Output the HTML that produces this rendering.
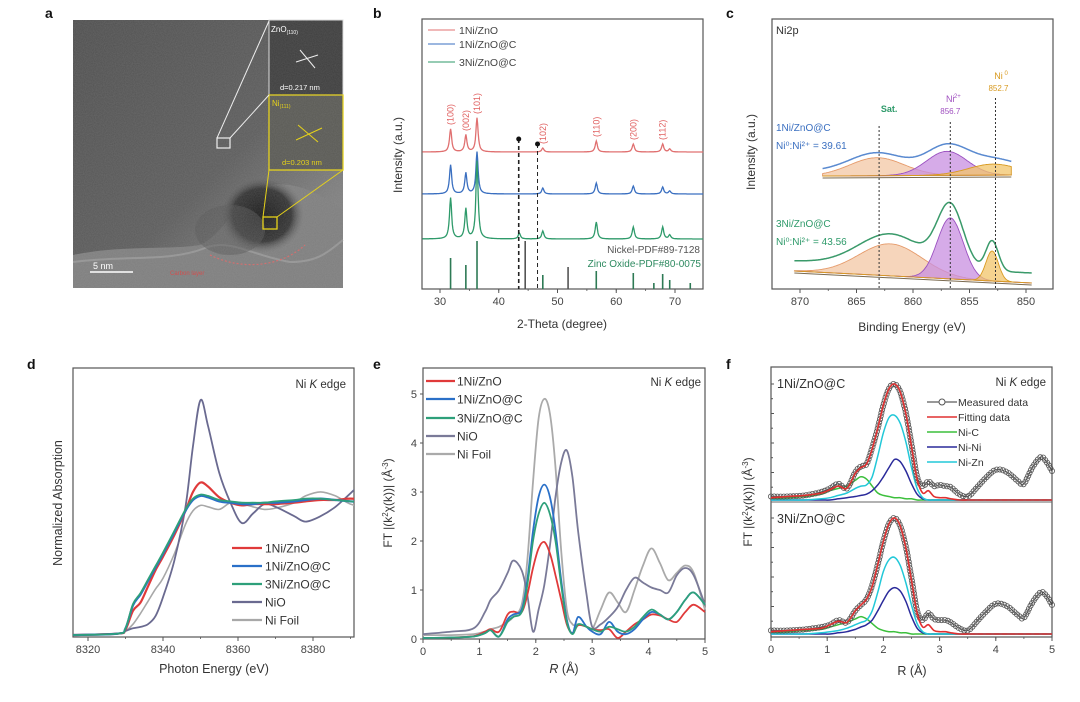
<!DOCTYPE html>
<html><head><meta charset="utf-8"><style>
html,body{margin:0;padding:0;background:#fff;}
svg{display:block;font-family:"Liberation Sans",Arial,sans-serif;}
</style></head><body>
<svg id="fig" width="1080" height="702" viewBox="0 0 1080 702" xmlns="http://www.w3.org/2000/svg">
<defs>
<radialGradient id="blob" cx="0.5" cy="0.5" r="0.5"><stop offset="0" stop-color="#1a1a1a"/><stop offset="0.7" stop-color="#333"/><stop offset="1" stop-color="#6a6a6a" stop-opacity="0"/></radialGradient>
<linearGradient id="temg" x1="0" y1="0" x2="1" y2="1"><stop offset="0" stop-color="#4e4e4e"/><stop offset="0.55" stop-color="#5c5c5c"/><stop offset="0.8" stop-color="#7d7d7d"/><stop offset="1" stop-color="#8a8a8a"/></linearGradient>
<filter id="noise"><feTurbulence type="fractalNoise" baseFrequency="0.9" numOctaves="2" seed="3"/><feColorMatrix type="matrix" values="0 0 0 0 0.5  0 0 0 0 0.5  0 0 0 0 0.5  0 0 0 0.35 0"/><feComposite in2="SourceGraphic" operator="in"/></filter>
<clipPath id="clipD"><rect x="73" y="368" width="281" height="269"/></clipPath>
</defs>
<g font-weight="bold" font-size="14" fill="#111">
<text x="45" y="18">a</text>
<text x="373" y="18">b</text>
<text x="726" y="18">c</text>
<text x="27" y="369">d</text>
<text x="373" y="369">e</text>
<text x="726" y="369">f</text>
</g>
<g>
<rect x="73" y="20" width="270" height="268" fill="url(#temg)"/>
<path d="M73,255 C120,245 170,250 200,245 C230,230 240,190 270,185 C300,180 330,200 343,210 L343,288 L73,288 Z" fill="#7e7e7e"/>
<path d="M73,262 C130,255 170,262 205,248 C230,238 250,255 290,262 C320,262 330,250 343,240" fill="none" stroke="#a5a5a5" stroke-width="2" opacity="0.6"/>
<ellipse cx="262" cy="215" rx="42" ry="38" fill="url(#blob)"/>
<ellipse cx="230" cy="230" rx="35" ry="25" fill="#555" opacity="0.5"/>
<rect x="73" y="20" width="270" height="268" fill="#888" filter="url(#noise)" opacity="0.6"/>
<path d="M210,255 C240,270 280,268 305,245" fill="none" stroke="#d07070" stroke-width="1.2" stroke-dasharray="2,2"/>
<rect x="269" y="20" width="74" height="75" fill="#3e3e3e" stroke="#ddd" stroke-width="1"/>
<rect x="269" y="95" width="74" height="75" fill="#5a5a55" stroke="#e6d21a" stroke-width="1.3"/>
<rect x="269" y="20" width="74" height="150" fill="#777" filter="url(#noise)" opacity="0.5"/>
<line x1="217" y1="138" x2="269" y2="21" stroke="#eee" stroke-width="1"/>
<line x1="230" y1="138" x2="269" y2="95" stroke="#eee" stroke-width="1"/>
<rect x="217" y="138" width="13" height="10" fill="none" stroke="#eee" stroke-width="1.2"/>
<line x1="263" y1="217" x2="269" y2="170" stroke="#e6d21a" stroke-width="1"/>
<line x1="277" y1="217" x2="343" y2="170" stroke="#e6d21a" stroke-width="1"/>
<rect x="263" y="217" width="14" height="12" fill="none" stroke="#e6d21a" stroke-width="1.3"/>
<line x1="300" y1="50" x2="315" y2="68" stroke="#eee" stroke-width="1"/><line x1="296" y1="62" x2="318" y2="55" stroke="#eee" stroke-width="1"/>
<line x1="298" y1="125" x2="318" y2="142" stroke="#e6d21a" stroke-width="1"/><line x1="296" y1="140" x2="322" y2="128" stroke="#e6d21a" stroke-width="1"/>
<text x="271" y="32" font-size="8" fill="#fff">ZnO<tspan font-size="5" dy="2">(110)</tspan></text>
<text x="280" y="90" font-size="7.5" fill="#fff">d=0.217 nm</text>
<text x="272" y="106" font-size="8" fill="#e6d21a">Ni<tspan font-size="5" dy="2">(111)</tspan></text>
<text x="282" y="165" font-size="7.5" fill="#e6d21a">d=0.203 nm</text>
<line x1="90" y1="272" x2="133" y2="272" stroke="#fff" stroke-width="1.5"/>
<text x="93" y="269" font-size="9" fill="#fff">5 nm</text>
<text x="170" y="275" font-size="6" fill="#d05050">Carbon layer</text>
</g>
<g id="plots"></g>
</svg>
<script>
// ---------- Panel b data (XRD) ----------
const xrdPeakPos = [31.8, 34.4, 36.3, 43.5, 47.5, 56.6, 62.9, 67.9, 69.1];
const xrdRed = [23, 17, 34, 0, 4, 11, 8, 8, 3];
const xrdBlue = [29, 21, 42, 0, 6, 11, 8, 7, 3];
const xrdGreen = [41, 30, 78, 6, 8, 17, 12, 12, 4];
const znoRefPos = [31.8, 34.4, 36.3, 47.5, 56.6, 62.9, 66.4, 67.9, 69.1, 72.6];
const znoRefInt = [31, 24, 48, 14, 18, 16, 6, 15, 9, 6];
const niRefPos = [44.5, 51.8];
const niRefInt = [48, 22];
const hklLabels = ['(100)', '(002)', '(101)', '(102)', '(110)', '(200)', '(112)'];
const hklPos = [31.8, 34.4, 36.3, 47.5, 56.6, 62.9, 67.9];
const xrdTicks = [30, 40, 50, 60, 70];
const xrdDashPos = [43.4, 46.6];
// ---------- Panel c data (XPS) ----------
const xpsTopCenters = [863.2, 857.0, 852.9];
const xpsTopHeights = [18, 24, 11];
const xpsTopWidths = [2.4, 1.8, 2.2];
const xpsBotCenters = [862.0, 856.7, 853.0];
const xpsBotHeights = [32, 61, 30];
const xpsBotWidths = [2.8, 1.15, 0.55];
const xpsTicks = [870, 865, 860, 855, 850];
const xpsMarkers = [863, 856.7, 852.7];
// ---------- Panel d data (XANES) ----------
const xanesE = [8316,8328,8330,8332,8334,8336,8338,8340,8343,8346,8348,8350,8352,8355,8358,8361,8364,8367,8370,8375,8378,8382,8386,8390,8395];
const xanesRed = [0,0.01,0.04,0.18,0.24,0.36,0.48,0.58,0.74,0.92,1.06,1.13,1.1,1.02,0.98,0.96,0.97,0.97,0.97,0.98,0.99,1.0,1.0,1.01,1.0];
const xanesBlue = [0,0.01,0.05,0.22,0.3,0.4,0.5,0.6,0.76,0.92,1.0,1.03,1.02,0.99,0.98,0.97,0.97,0.98,0.98,0.99,1.0,1.01,1.0,0.99,0.98];
const xanesGreen = [0,0.01,0.05,0.23,0.31,0.41,0.51,0.61,0.77,0.93,1.01,1.04,1.03,1.0,0.99,0.98,0.98,0.98,0.99,1.0,1.01,1.01,1.0,0.99,0.98];
const xanesNiO = [0,0.01,0.03,0.05,0.06,0.08,0.14,0.28,0.55,0.95,1.4,1.74,1.55,1.2,0.98,0.83,0.9,0.97,0.95,0.88,0.84,0.88,0.95,1.05,1.18];
const xanesFoil = [0,0.01,0.03,0.08,0.16,0.25,0.34,0.42,0.6,0.82,0.92,0.96,0.95,0.93,0.98,0.97,0.95,0.93,0.94,0.98,1.03,1.06,1.03,0.97,0.94];
const xanesTicks = [8320, 8340, 8360, 8380];
// ---------- Panel e data (FT-EXAFS) ----------
const ftR = [0,0.5,0.9,1.1,1.2,1.35,1.5,1.6,1.75,1.85,1.95,2.05,2.15,2.25,2.35,2.45,2.55,2.65,2.75,2.9,3.0,3.15,3.3,3.45,3.6,3.75,3.9,4.05,4.2,4.35,4.5,4.65,4.8,5.0];
const ftRed = [0.02,0.03,0.06,0.15,0.2,0.15,0.5,0.56,0.55,0.9,1.45,1.85,1.98,1.75,1.3,0.8,0.3,0.12,0.28,0.25,0.2,0.18,0.2,0.02,0.15,0.3,0.4,0.5,0.48,0.4,0.35,0.55,0.7,0.55];
const ftBlue = [0.02,0.03,0.05,0.12,0.18,0.05,0.4,0.5,0.6,1.2,2.2,2.9,3.15,2.9,2.2,1.2,0.4,0.12,0.45,0.25,0.15,0.1,0.35,0.15,0.1,0.2,0.4,0.55,0.5,0.4,0.55,0.8,0.95,0.7];
const ftGreen = [0.02,0.03,0.05,0.12,0.18,0.05,0.35,0.45,0.55,1.1,2.0,2.55,2.78,2.55,2.0,1.1,0.35,0.1,0.3,0.25,0.2,0.15,0.25,0.2,0.15,0.25,0.45,0.6,0.5,0.4,0.55,0.8,0.95,0.7];
const ftNiO = [0.1,0.15,0.22,0.55,0.8,1.0,1.35,1.6,1.4,0.9,0.15,0.6,1.1,1.9,2.9,3.6,3.85,3.3,2.2,0.9,0.25,0.3,0.45,0.65,1.0,1.25,1.15,1.05,1.0,0.95,1.3,1.45,1.3,0.7];
const ftFoil = [0.08,0.08,0.1,0.15,0.2,0.25,0.35,0.45,0.7,1.6,3.2,4.5,4.9,4.6,3.5,1.8,0.6,0.3,0.3,0.25,0.2,0.6,0.95,0.75,0.55,1.0,1.5,1.85,1.55,1.2,1.35,1.5,1.35,0.6];
const ftYTicks = [0, 1, 2, 3, 4, 5];
const rTicks = [0, 1, 2, 3, 4, 5];
// ---------- Panel f data (EXAFS fitting) ----------
const fitR = [0,0.3,0.6,0.9,1.05,1.2,1.35,1.5,1.6,1.7,1.8,1.9,2.0,2.1,2.2,2.3,2.4,2.5,2.6,2.7,2.8,2.9,3.0,3.1,3.2,3.35,3.5,3.65,3.8,4.0,4.2,4.4,4.5,4.65,4.8,4.9,5.0];
const f1Measured = [0.03,0.03,0.04,0.07,0.1,0.14,0.1,0.24,0.29,0.31,0.45,0.62,0.82,0.96,1.0,0.93,0.75,0.48,0.2,0.12,0.16,0.12,0.13,0.12,0.11,0.05,0.03,0.1,0.18,0.26,0.24,0.16,0.14,0.28,0.37,0.33,0.25];
const f1Fit = [0.02,0.03,0.04,0.06,0.09,0.12,0.1,0.23,0.28,0.31,0.44,0.62,0.82,0.96,1.0,0.93,0.74,0.46,0.18,0.06,0.08,0.03,0.02,0.02,0.01,0,0,0,0,0,0,0,0,0,0,0,0];
const f1NiC = [0.01,0.02,0.03,0.05,0.08,0.1,0.12,0.17,0.2,0.18,0.12,0.06,0.04,0.03,0.02,0.02,0.01,0.01,0,0,0,0,0,0,0,0,0,0,0,0,0,0,0,0,0,0,0];
const f1NiNi = [0,0,0,0,0,0.01,0.02,0.03,0.04,0.05,0.08,0.13,0.2,0.28,0.35,0.33,0.25,0.14,0.05,0.01,0,0,0,0,0,0,0,0,0,0,0,0,0,0,0,0,0];
const f1NiZn = [0,0,0,0.01,0.02,0.04,0.06,0.1,0.12,0.13,0.2,0.38,0.58,0.71,0.73,0.66,0.5,0.28,0.1,0.02,0,0,0,0,0,0,0,0,0,0,0,0,0,0,0,0,0];
const f2Measured = [0.03,0.03,0.04,0.06,0.08,0.12,0.1,0.2,0.25,0.3,0.42,0.6,0.8,0.95,1.0,0.93,0.75,0.48,0.2,0.12,0.18,0.13,0.12,0.12,0.1,0.05,0.03,0.1,0.18,0.26,0.24,0.16,0.14,0.27,0.36,0.33,0.25];
const f2Fit = [0.02,0.03,0.04,0.05,0.08,0.11,0.1,0.2,0.25,0.3,0.41,0.6,0.8,0.95,1.0,0.93,0.74,0.46,0.18,0.06,0.08,0.03,0.02,0.02,0.01,0,0,0,0,0,0,0,0,0,0,0,0];
const f2NiC = [0.01,0.02,0.03,0.04,0.06,0.08,0.1,0.13,0.15,0.13,0.09,0.05,0.03,0.02,0.02,0.01,0.01,0,0,0,0,0,0,0,0,0,0,0,0,0,0,0,0,0,0,0,0];
const f2NiNi = [0,0,0,0,0,0.01,0.02,0.04,0.06,0.08,0.12,0.2,0.29,0.37,0.4,0.37,0.28,0.15,0.05,0.01,0,0,0,0,0,0,0,0,0,0,0,0,0,0,0,0,0];
const f2NiZn = [0,0,0,0.01,0.02,0.03,0.05,0.08,0.1,0.12,0.2,0.36,0.54,0.64,0.66,0.59,0.44,0.25,0.09,0.02,0,0,0,0,0,0,0,0,0,0,0,0,0,0,0,0,0];

const NS = 'http://www.w3.org/2000/svg';
const root = document.getElementById('plots');
function mk(tag, attrs, parent) {
  const e = document.createElementNS(NS, tag);
  for (const k in attrs) e.setAttribute(k, attrs[k]);
  (parent || root).appendChild(e);
  return e;
}
function txt(x, y, s, attrs) {
  const e = mk('text', Object.assign({x: x, y: y}, attrs || {}));
  e.textContent = s;
  return e;
}
function smooth(pts) {
  let d = 'M' + pts[0][0].toFixed(1) + ',' + pts[0][1].toFixed(1);
  for (let i = 0; i < pts.length - 1; i++) {
    const p0 = pts[Math.max(0, i - 1)], p1 = pts[i], p2 = pts[i + 1], p3 = pts[Math.min(pts.length - 1, i + 2)];
    const c1 = [p1[0] + (p2[0] - p0[0]) / 6, p1[1] + (p2[1] - p0[1]) / 6];
    const c2 = [p2[0] - (p3[0] - p1[0]) / 6, p2[1] - (p3[1] - p1[1]) / 6];
    d += 'C' + c1[0].toFixed(1) + ',' + c1[1].toFixed(1) + ' ' + c2[0].toFixed(1) + ',' + c2[1].toFixed(1) + ' ' + p2[0].toFixed(1) + ',' + p2[1].toFixed(1);
  }
  return d;
}
function frame(x, y, w, h) {
  return mk('rect', {x: x, y: y, width: w, height: h, fill: 'none', stroke: '#555', 'stroke-width': 1.2});
}
function xTicks(ticks, sx, yb, minorStep, lo, hi) {
  ticks.forEach(t => {
    const l = mk('line', {x1: sx(t), x2: sx(t), y1: yb, y2: yb + 4, stroke: '#555', 'stroke-width': 1});
    
    
    const tl = txt(sx(t), yb + 16, String(t), {'font-size': 11, fill: '#444', 'text-anchor': 'middle'});
    
    
  });
  if (minorStep) {
    for (let v = lo; v <= hi + 1e-9; v += minorStep) {
      mk('line', {x1: sx(v), x2: sx(v), y1: yb, y2: yb + 2, stroke: '#555', 'stroke-width': 0.8});
    }
  }
}

// ================= Panel b =================
(function () {
  const L = 422, T = 19, W = 281, H = 270, B = T + H;
  const sx = v => 440 + (v - 30) * 5.875;
  const fr = frame(L, T, W, H);
  
  
  const series = [[xrdRed, 152, '#e07070', 'xrd-1ni-zno'], [xrdBlue, 194, '#3a6fc0', 'xrd-1ni-zno-c'], [xrdGreen, 239, '#2e9a6a', 'xrd-3ni-zno-c']];
  series.forEach(s => {
    const pts = [];
    for (let v = 27; v <= 74.8; v += 0.1) {
      let y = 0;
      xrdPeakPos.forEach((c, i) => { y += s[0][i] / (1 + Math.pow((v - c) / 0.22, 2)); });
      pts.push(sx(v).toFixed(1) + ',' + (s[1] - y).toFixed(1));
    }
    const p = mk('polyline', {points: pts.join(' '), fill: 'none', stroke: s[2], 'stroke-width': 1.3});
    
    
  });
  znoRefPos.forEach((c, i) => {
    const l = mk('line', {x1: sx(c), x2: sx(c), y1: B, y2: B - znoRefInt[i], stroke: '#2e7a55', 'stroke-width': 1.6});
    
    
  });
  niRefPos.forEach((c, i) => {
    const l = mk('line', {x1: sx(c), x2: sx(c), y1: B, y2: B - niRefInt[i], stroke: '#555', 'stroke-width': 1.6});
    
    
  });
  xrdDashPos.forEach((c, i) => {
    const l = mk('line', {x1: sx(c), x2: sx(c), y1: i ? 144 : 139, y2: B, stroke: '#222', 'stroke-width': i ? 1 : 1.6, 'stroke-dasharray': '4,3'});
    
    
    const d = mk('circle', {cx: sx(c), cy: i ? 144 : 139, r: 2.5, fill: '#111'});
    
    
  });
  hklLabels.forEach((s, i) => {
    const x = sx(hklPos[i]);
    const y = 152 - xrdRed[xrdPeakPos.indexOf(hklPos[i])] - 4;
    const t = txt(x + 3, y, s, {'font-size': 9, fill: '#e06060', transform: 'rotate(-90 ' + (x + 3) + ' ' + y + ')'});
    
    
  });
  const n1 = txt(700, 253, 'Nickel-PDF#89-7128', {'font-size': 10, fill: '#555', 'text-anchor': 'end'});
  
  
  const n2 = txt(701, 267, 'Zinc Oxide-PDF#80-0075', {'font-size': 10, fill: '#2e8a60', 'text-anchor': 'end'});
  
  
  xTicks(xrdTicks, sx, B, 5, 30, 70);
  const xl = txt(562, 328, '2-Theta (degree)', {'font-size': 12, fill: '#333', 'text-anchor': 'middle'});
  
  
  const yl = txt(402, 155, 'Intensity (a.u.)', {'font-size': 12, fill: '#333', 'text-anchor': 'middle', transform: 'rotate(-90 402 155)'});
  
  
  [['1Ni/ZnO', '#e07070', 30], ['1Ni/ZnO@C', '#3a6fc0', 44], ['3Ni/ZnO@C', '#2e9a6a', 62]].forEach(e => {
    const l = mk('line', {x1: 428, x2: 455, y1: e[2], y2: e[2], stroke: e[1], 'stroke-width': 1});
    
    
    const t = txt(459, e[2] + 4, e[0], {'font-size': 10.5, fill: '#444'});
    
    
  });
})();

// ================= Panel c =================
(function () {
  const L = 772, T = 19, W = 281, H = 270, B = T + H;
  const sx = e => 800 + (870 - e) * 11.3;
  const fr = frame(L, T, W, H);
  
  
  function drawSet(centers, heights, widths, e0, e1, b0, b1, envColor, off, tag) {
    const base = e => b0 + (b1 - b0) * (e0 - e) / (e0 - e1);
    const cols = [['#f3c7a4', '#e59a6a'], ['#c88fe0', '#9a50c0'], ['#f2c46a', '#d89a20']];
    const env = [];
    centers.forEach((c, i) => {
      const pts = [];
      for (let e = e0; e >= e1 - 1e-6; e -= 0.1) {
        const y = base(e) - heights[i] * Math.exp(-Math.pow((e - c) / widths[i], 2) / 2);
        pts.push([sx(e), y]);
      }
      const d = 'M' + sx(e0) + ',' + base(e0) + ' ' + pts.map(p => 'L' + p[0].toFixed(1) + ',' + p[1].toFixed(1)).join(' ') + ' L' + sx(e1) + ',' + base(e1) + 'Z';
      const p = mk('path', {d: d, fill: cols[i][0], 'fill-opacity': 0.75, stroke: cols[i][1], 'stroke-width': 0.9});
      
      
    });
    for (let e = e0; e >= e1 - 1e-6; e -= 0.1) {
      let y = base(e) - off;
      centers.forEach((c, i) => { y -= heights[i] * Math.exp(-Math.pow((e - c) / widths[i], 2) / 2); });
      env.push(sx(e).toFixed(1) + ',' + y.toFixed(1));
    }
    const bl = mk('line', {x1: sx(e0), x2: sx(e1), y1: base(e0) + 2, y2: base(e1) + 2, stroke: '#7a6a50', 'stroke-width': 1});
    
    
    const ep = mk('polyline', {points: env.join(' '), fill: 'none', stroke: envColor, 'stroke-width': 1.5});
    
    
  }
  drawSet(xpsTopCenters, xpsTopHeights, xpsTopWidths, 868, 851.3, 176, 175, '#5a8ad0', 5, 'xps-1ni');
  drawSet(xpsBotCenters, xpsBotHeights, xpsBotWidths, 870.5, 849.5, 271, 283, '#3a9a6a', 10, 'xps-3ni');
  xpsMarkers.forEach((m, i) => {
    const l = mk('line', {x1: sx(m), x2: sx(m), y1: [126, 122, 98][i], y2: B, stroke: '#333', 'stroke-width': 1, 'stroke-dasharray': '2,2'});
    
    
  });
  const s1 = txt(sx(863) + 10, 112, 'Sat.', {'font-size': 9, fill: '#2e9a6a', 'font-weight': 'bold', 'text-anchor': 'middle'});
  
  
  const s2 = txt(sx(856.7), 102, 'Ni', {'font-size': 9, fill: '#a050c0', 'text-anchor': 'middle'});
  
  
  const s2s = txt(sx(856.7) + 7, 98, '2+', {'font-size': 6, fill: '#a050c0', 'text-anchor': 'middle'});
  
  
  const s3 = txt(sx(856.7), 114, '856.7', {'font-size': 8, fill: '#a050c0', 'text-anchor': 'middle'});
  
  
  const s4 = txt(sx(852.7) + 3, 79, 'Ni', {'font-size': 9, fill: '#d89a20', 'text-anchor': 'middle'});
  
  
  const s4s = txt(sx(852.7) + 9, 75, '0', {'font-size': 6, fill: '#d89a20'});
  
  
  const s5 = txt(sx(852.7) + 3, 91, '852.7', {'font-size': 8, fill: '#d89a20', 'text-anchor': 'middle'});
  
  
  const a1 = txt(776, 131, '1Ni/ZnO@C', {'font-size': 10, fill: '#3a6fc0'});
  
  
  const a2 = txt(776, 149, 'Ni⁰:Ni²⁺ = 39.61', {'font-size': 10, fill: '#3a6fc0'});
  
  
  const a3 = txt(776, 227, '3Ni/ZnO@C', {'font-size': 10, fill: '#2e9a6a'});
  
  
  const a4 = txt(776, 245, 'Ni⁰:Ni²⁺ = 43.56', {'font-size': 10, fill: '#2e9a6a'});
  
  
  const a5 = txt(776, 34, 'Ni2p', {'font-size': 11, fill: '#333'});
  
  
  xTicks(xpsTicks, sx, B, 2.5, 850, 870);
  const xl = txt(912, 331, 'Binding Energy (eV)', {'font-size': 12, fill: '#333', 'text-anchor': 'middle'});
  
  
  const yl = txt(755, 152, 'Intensity (a.u.)', {'font-size': 12, fill: '#333', 'text-anchor': 'middle', transform: 'rotate(-90 755 152)'});
  
  
})();

// ================= Panel d =================
(function () {
  const L = 73, T = 368, W = 281, H = 269, B = T + H;
  const sx = e => 73 + (e - 8316) * 3.75;
  const sy = v => 635 - v * 135;
  const fr = frame(L, T, W, H);
  
  
  const series = [[xanesFoil, '#a8a8a8', 'xanes-ni-foil', 1.6], [xanesNiO, '#6a6a90', 'xanes-nio', 1.8], [xanesRed, '#e03a3a', 'xanes-1ni-zno', 2.2], [xanesBlue, '#2a70c8', 'xanes-1ni-zno-c', 2.2], [xanesGreen, '#2ea07a', 'xanes-3ni-zno-c', 1.8]];
  series.forEach(s => {
    const p = mk('path', {d: smooth(xanesE.map((e, i) => [sx(e), sy(s[0][i])])), fill: 'none', stroke: s[1], 'stroke-width': s[3], 'clip-path': 'url(#clipD)'});
    
    
  });
  xTicks(xanesTicks, sx, B, 10, 8320, 8390);
  const xl = txt(214, 673, 'Photon Energy (eV)', {'font-size': 12.5, fill: '#333', 'text-anchor': 'middle'});
  
  
  const yl = txt(62, 503, 'Normalized Absorption', {'font-size': 12.5, fill: '#333', 'text-anchor': 'middle', transform: 'rotate(-90 62 503)'});
  
  
  const ke = txt(346, 388, '', {'font-size': 11.5, fill: '#333', 'text-anchor': 'end'});
  ke.innerHTML = 'Ni <tspan font-style="italic">K</tspan> edge';
  
  
  [['1Ni/ZnO', '#e03a3a', 548], ['1Ni/ZnO@C', '#2a70c8', 566], ['3Ni/ZnO@C', '#2ea07a', 584], ['NiO', '#6a6a90', 602], ['Ni Foil', '#a8a8a8', 620]].forEach(e => {
    const l = mk('line', {x1: 232, x2: 262, y1: e[2], y2: e[2], stroke: e[1], 'stroke-width': 2.2});
    
    
    const t = txt(265, e[2] + 4.5, e[0], {'font-size': 12, fill: '#333'});
    
    
  });
})();

// ================= Panel e =================
(function () {
  const L = 423, T = 368, W = 282, H = 271, B = T + H;
  const sx = r => 423 + r * 56.4;
  const sy = v => 639 - v * 49;
  const fr = frame(L, T, W, H);
  
  
  const series = [[ftFoil, '#aaaaaa', 'ft-ni-foil'], [ftNiO, '#7a7a98', 'ft-nio'], [ftRed, '#e03a3a', 'ft-1ni-zno'], [ftBlue, '#2a70c8', 'ft-1ni-zno-c'], [ftGreen, '#2ea07a', 'ft-3ni-zno-c']];
  series.forEach(s => {
    const p = mk('path', {d: smooth(ftR.map((r, i) => [sx(r), sy(s[0][i])])), fill: 'none', stroke: s[1], 'stroke-width': 1.8});
    
    
  });
  xTicks(rTicks, sx, B, 0.5, 0, 5);
  ftYTicks.forEach(t => {
    const l = mk('line', {x1: L - 3, x2: L, y1: sy(t), y2: sy(t), stroke: '#555'});
    
    
    const tl = txt(L - 6, sy(t) + 4, String(t), {'font-size': 11, fill: '#444', 'text-anchor': 'end'});
    
    
  });
  const xl = txt(564, 673, '', {'font-size': 12.5, fill: '#333', 'text-anchor': 'middle'});
  xl.innerHTML = '<tspan font-style="italic">R</tspan> (Å)';
  
  
  const yl = txt(392, 503, '', {'font-size': 12, fill: '#333', 'text-anchor': 'middle', transform: 'rotate(-90 392 503)'});
  yl.innerHTML = 'FT |(k<tspan font-size="8" dy="-4">2</tspan><tspan dy="4">χ(k))| (Å</tspan><tspan font-size="8" dy="-4">-3</tspan><tspan dy="4">)</tspan>';
  
  
  const ke = txt(701, 386, '', {'font-size': 11.5, fill: '#333', 'text-anchor': 'end'});
  ke.innerHTML = 'Ni <tspan font-style="italic">K</tspan> edge';
  
  
  [['1Ni/ZnO', '#e03a3a', 381], ['1Ni/ZnO@C', '#2a70c8', 399], ['3Ni/ZnO@C', '#2ea07a', 418], ['NiO', '#7a7a98', 436], ['Ni Foil', '#aaaaaa', 454]].forEach(e => {
    const l = mk('line', {x1: 426, x2: 455, y1: e[2], y2: e[2], stroke: e[1], 'stroke-width': 2.2});
    
    
    const t = txt(457, e[2] + 4.5, e[0], {'font-size': 12, fill: '#333'});
    
    
  });
})();

// ================= Panel f =================
(function () {
  const L = 771, T = 367, W = 281, H = 270, B = T + H;
  const sx = r => 771 + r * 56.2;
  const fr = frame(L, T, W, H);
  
  
  const div = mk('line', {x1: L, x2: L + W, y1: 502, y2: 502, stroke: '#666', 'stroke-width': 1});
  
  
  const subs = [[502, f1Measured, f1Fit, f1NiC, f1NiNi, f1NiZn, 'f-1ni'], [636, f2Measured, f2Fit, f2NiC, f2NiNi, f2NiZn, 'f-3ni']];
  subs.forEach(s => {
    const sy = v => s[0] - 2 - v * 116;
    [[s[3], '#3cbf3c', 'ni-c'], [s[4], '#2a2a9a', 'ni-ni'], [s[5], '#22c8d8', 'ni-zn']].forEach(c => {
      const p = mk('path', {d: smooth(fitR.map((r, i) => [sx(r), sy(c[0][i])])), fill: 'none', stroke: c[1], 'stroke-width': 1.5});
      
      
    });
    const tail = mk('line', {x1: sx(3.4), x2: sx(5), y1: sy(0), y2: sy(0), stroke: '#d04040', 'stroke-width': 1.2, 'stroke-dasharray': '5,3'});
    
    
    const mp = mk('path', {d: smooth(fitR.map((r, i) => [sx(r), sy(s[1][i])])), fill: 'none', stroke: '#333', 'stroke-width': 0.8});
    
    
    const tmp = mp.getTotalLength();
    for (let d = 0; d <= tmp; d += 3.2) {
      const pt = mp.getPointAtLength(d);
      const c = mk('circle', {cx: pt.x.toFixed(1), cy: pt.y.toFixed(1), r: 2.6, fill: 'none', stroke: '#555', 'stroke-width': 0.8});
      
      
    }
    const fp = mk('path', {d: smooth(fitR.map((r, i) => [sx(r), sy(s[2][i])])), fill: 'none', stroke: '#e03030', 'stroke-width': 1.6});
    
    
    for (let k = 1; k <= 4; k++) {
      mk('line', {x1: L, x2: L + 3, y1: s[0] - k * 29.5, y2: s[0] - k * 29.5, stroke: '#555'});
      mk('line', {x1: L, x2: L + 2, y1: s[0] - k * 29.5 + 14.7, y2: s[0] - k * 29.5 + 14.7, stroke: '#555'});
    }
  });
  xTicks(rTicks, sx, B, 0.5, 0, 5);
  const t1 = txt(777, 388, '1Ni/ZnO@C', {'font-size': 12.5, fill: '#333'});
  
  
  const t2 = txt(777, 523, '3Ni/ZnO@C', {'font-size': 12.5, fill: '#333'});
  
  
  const ke = txt(1046, 386, '', {'font-size': 11.5, fill: '#333', 'text-anchor': 'end'});
  ke.innerHTML = 'Ni <tspan font-style="italic">K</tspan> edge';
  
  
  [['Measured data', '#333', 402], ['Fitting data', '#e03030', 417], ['Ni-C', '#3cbf3c', 432], ['Ni-Ni', '#2a2a9a', 447], ['Ni-Zn', '#22c8d8', 462]].forEach((e, i) => {
    const l = mk('line', {x1: 927, x2: 957, y1: e[2], y2: e[2], stroke: e[1], 'stroke-width': i ? 1.6 : 1});
    
    
    if (i === 0) {
      const c = mk('circle', {cx: 942, cy: e[2], r: 3, fill: '#fff', stroke: '#555'});
      
      
    }
    const t = txt(958, e[2] + 4, e[0], {'font-size': 10.5, fill: '#333'});
    
    
  });
  const xl = txt(912, 675, 'R (Å)', {'font-size': 12.5, fill: '#333', 'text-anchor': 'middle'});
  
  
  const yl = txt(752, 502, '', {'font-size': 12, fill: '#333', 'text-anchor': 'middle', transform: 'rotate(-90 752 502)'});
  yl.innerHTML = 'FT |(k<tspan font-size="8" dy="-4">2</tspan><tspan dy="4">χ(k))| (Å</tspan><tspan font-size="8" dy="-4">-3</tspan><tspan dy="4">)</tspan>';
  
  
})();
</script>
</body></html>
